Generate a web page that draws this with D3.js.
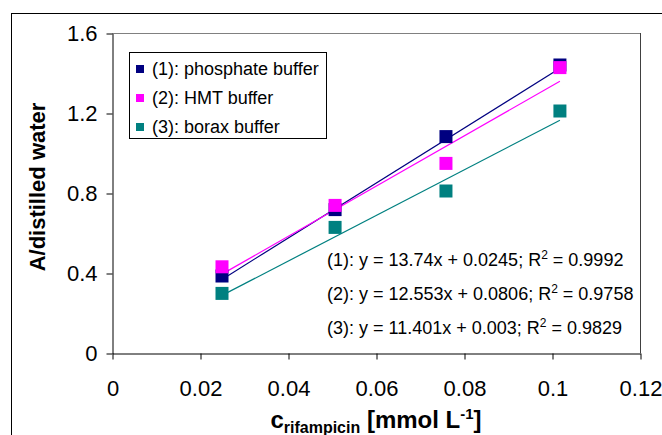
<!DOCTYPE html>
<html>
<head>
<meta charset="utf-8">
<script src="https://cdn.jsdelivr.net/npm/d3@7/dist/d3.min.js"></script>
<style>
  body { margin: 0; background: #fff; }
  svg { display: block; font-family: "Liberation Sans", Arial, sans-serif; }
</style>
</head>
<body>
<div id="chart"></div>
<script>
// Data
const concentrations = [0.025, 0.0507, 0.0759, 0.1018];
const phosphateValues = [0.385, 0.717, 1.082, 1.44];
const hmtValues = [0.431, 0.738, 0.948, 1.427];
const boraxValues = [0.298, 0.628, 0.81, 1.21];

const seriesNames = ["(1): phosphate buffer", "(2): HMT buffer", "(3): borax buffer"];
const seriesColors = ["#000080", "#ff00ff", "#008080"];

// Trendline equations shown on the chart
const slopes = [13.74, 12.553, 11.401];
const intercepts = [0.0245, 0.0806, 0.003];
const equationStarts = ["(1): y = 13.74x + 0.0245; R", "(2): y = 12.553x + 0.0806; R", "(3): y = 11.401x + 0.003; R"];
const rSquared = ["0.9992", "0.9758", "0.9829"];

const xTicks = [0, 0.02, 0.04, 0.06, 0.08, 0.1, 0.12];
const yTicks = [0, 0.4, 0.8, 1.2, 1.6];

// Chart dimensions
const width = 662, height = 435;
const plot = {left: 112, top: 33, right: 640, bottom: 353};

const xScale = d3.scaleLinear().domain([0, 0.12]).range([plot.left, plot.right]);
const yScale = d3.scaleLinear().domain([0, 1.6]).range([plot.bottom, plot.top]);

const svg = d3.select("#chart").append("svg")
    .attr("width", width)
    .attr("height", height);

// Outer chart border (cut off by the picture edge)
svg.append("rect")
    .attr("x", 11.5).attr("y", 13.5)
    .attr("width", 700).attr("height", 450)
    .attr("fill", "#fff")
    .attr("stroke", "#000");

// Plot area border
svg.append("line")
    .attr("x1", plot.left).attr("x2", plot.right)
    .attr("y1", plot.top + 0.5).attr("y2", plot.top + 0.5)
    .attr("stroke", "#808080");
svg.append("line")
    .attr("x1", plot.right + 0.5).attr("x2", plot.right + 0.5)
    .attr("y1", plot.top).attr("y2", plot.bottom)
    .attr("stroke", "#404040");

// Axes
const xAxis = svg.append("g")
    .attr("transform", `translate(0.5,${plot.bottom + 0.5})`)
    .call(d3.axisBottom(xScale).tickValues(xTicks).tickSize(6).tickSizeOuter(0)
        .tickFormat(d => String(d)));
const yAxis = svg.append("g")
    .attr("transform", `translate(${plot.left + 0.5},0.5)`)
    .call(d3.axisLeft(yScale).tickValues(yTicks).tickSize(6).tickSizeOuter(0)
        .tickFormat(d => String(d)));

[xAxis, yAxis].forEach(ax => {
    ax.select(".domain").attr("stroke", "#000");
    ax.selectAll(".tick line").attr("stroke", "#000");
    ax.selectAll(".tick text")
        .attr("fill", "#000")
        .style("font-family", "'Liberation Sans', Arial, sans-serif")
        .style("font-size", "22px");
});
xAxis.selectAll(".tick text").attr("y", 27);
yAxis.selectAll(".tick text").attr("x", -15);

// Trendlines
const series = [phosphateValues, hmtValues, boraxValues];
const xMin = d3.min(concentrations), xMax = d3.max(concentrations);
const line = d3.line().x(d => xScale(d[0])).y(d => yScale(d[1]));

series.forEach((vals, i) => {
    svg.append("path")
        .datum([[xMin, slopes[i] * xMin + intercepts[i]], [xMax, slopes[i] * xMax + intercepts[i]]])
        .attr("d", line)
        .attr("fill", "none")
        .attr("stroke", seriesColors[i])
        .attr("stroke-width", 1.2);
});

// Markers: teal first, then navy, pink on top
const markerSize = 13;
[2, 0, 1].forEach(i => {
    svg.selectAll(`.pt-${i}`)
        .data(concentrations.map((c, j) => [c, series[i][j]]))
        .enter().append("rect")
        .attr("class", `pt-${i}`)
        .attr("x", d => xScale(d[0]) - markerSize / 2)
        .attr("y", d => yScale(d[1]) - markerSize / 2)
        .attr("width", markerSize)
        .attr("height", markerSize)
        .attr("fill", seriesColors[i]);
});

// Legend
const legend = svg.append("g");
legend.append("rect")
    .attr("x", 129.5).attr("y", 52.5)
    .attr("width", 197).attr("height", 86)
    .attr("fill", "#fff")
    .attr("stroke", "#000");

seriesNames.forEach((name, i) => {
    const cy = 69 + i * 29;
    legend.append("rect")
        .attr("x", 136).attr("y", cy - 4)
        .attr("width", 8).attr("height", 8)
        .attr("fill", seriesColors[i]);
    legend.append("text")
        .attr("x", 152).attr("y", cy + 6)
        .style("font-size", "18px")
        .text(name);
});

// Equations
equationStarts.forEach((eq, i) => {
    const t = svg.append("text")
        .attr("x", 327).attr("y", 266 + i * 34)
        .style("font-size", "18px");
    t.append("tspan").text(eq);
    t.append("tspan").attr("dy", -7).style("font-size", "12px").text("2");
    t.append("tspan").attr("dy", 7).text(" = " + rSquared[i]);
});

// Axis titles
svg.append("text")
    .attr("transform", `translate(45,187) rotate(-90)`)
    .attr("text-anchor", "middle")
    .style("font-size", "22px")
    .style("font-weight", "bold")
    .text("A/distilled water");

const xt = svg.append("text")
    .attr("x", (plot.left + plot.right) / 2)
    .attr("y", 428)
    .attr("text-anchor", "middle")
    .style("font-size", "24px")
    .style("font-weight", "bold");
xt.append("tspan").text("c");
xt.append("tspan").attr("dy", 5).style("font-size", "16px").text("rifampicin");
xt.append("tspan").attr("dy", -5).text(" [mmol L");
xt.append("tspan").attr("dy", -9).style("font-size", "15px").text("-1");
xt.append("tspan").attr("dy", 9).text("]");
</script>
</body>
</html>
